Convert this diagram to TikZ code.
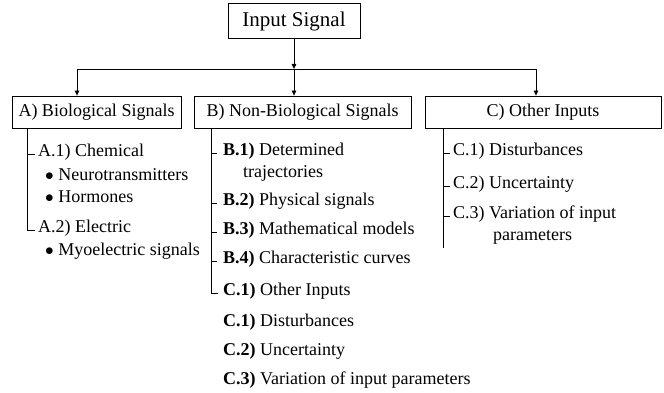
\documentclass[tikz,border=0pt]{standalone}
\usepackage{fontspec}
\setmainfont{Liberation Serif}
\usetikzlibrary{arrows.meta}
\begin{document}
\begin{tikzpicture}[x=1pt,y=-1pt,
  box/.style={draw,line width=0.8pt,inner sep=0pt,font=\fontsize{18}{20}\selectfont},
  item/.style={anchor=mid west,inner sep=0pt,font=\fontsize{18}{20}\selectfont},
  lbl/.style={font=\bfseries},
  arr/.style={-{Triangle[length=5pt,width=4.5pt]},line width=0.8pt},
  tree/.style={line width=0.8pt}]
\useasboundingbox (0,0) rectangle (664,393);
% boxes
\node[box,minimum width=132pt,minimum height=35pt,font=\fontsize{21}{24}\selectfont] (in) at (294,21) {Input Signal};
\node[box,minimum width=169pt,minimum height=32pt] (A) at (96.5,112) {A) Biological Signals};
\node[box,minimum width=217pt,minimum height=32pt] (B) at (302.5,112) {B) Non-Biological Signals};
\node[box,minimum width=236pt,minimum height=32pt] (C) at (543,112) {C) Other Inputs};
% arrows
\coordinate (j) at (294,69);
\coordinate (jA) at (77,69);
\coordinate (jC) at (536,69);
\draw[arr] (in.south) -- (j);
\draw[tree] (jA) -- (jC);
\draw[arr] (jA) -- (jA |- A.north);
\draw[arr] (j) -- (j |- B.north);
\draw[arr] (jC) -- (jC |- C.north);
% A column
\node[item] (a1) at (38,154) {A.1) Chemical};
\node[item] (a1a) at (45,178) {$\bullet$ Neurotransmitters};
\node[item] (a1b) at (45,200) {$\bullet$ Hormones};
\node[item] (a2) at (38,230) {A.2) Electric};
\node[item] (a2a) at (45,253) {$\bullet$ Myoelectric signals};
\coordinate (vA) at (27,0);
\draw[tree] (vA |- A.south) |- ([xshift=-3pt]a2.mid west);
\draw[tree] (vA |- a1.mid west) -- ([xshift=-3pt]a1.mid west);
% B column
\node[item] (b1) at (223,153) {\textbf{B.1)} Determined};
\node[item] (b1x) at (243,175) {trajectories};
\node[item] (b2) at (223,203) {\textbf{B.2)} Physical signals};
\node[item] (b3) at (223,232) {\textbf{B.3)} Mathematical models};
\node[item] (b4) at (223,261) {\textbf{B.4)} Characteristic curves};
\node[item] (b5) at (223,293) {\textbf{C.1)} Other Inputs};
\node[item] (b6) at (223,324) {\textbf{C.1)} Disturbances};
\node[item] (b7) at (223,353) {\textbf{C.2)} Uncertainty};
\node[item] (b8) at (223,382) {\textbf{C.3)} Variation of input parameters};
\coordinate (vB) at (211,0);
\draw[tree] (vB |- B.south) |- ([xshift=-5pt]b5.mid west);
\foreach \n in {b1,b2,b3,b4}
  \draw[tree] (vB |- \n.mid west) -- ([xshift=-6pt]\n.mid west);
% C column
\node[item] (c1) at (453,153) {C.1) Disturbances};
\node[item] (c2) at (453,186) {C.2) Uncertainty};
\node[item] (c3) at (453,216) {C.3) Variation of input};
\node[item] (c3x) at (493,238) {parameters};
\coordinate (vC) at (443,0);
\draw[tree] (vC |- C.south) -- (vC |- 0,248);
\foreach \n in {c1,c2,c3}
  \draw[tree] (vC |- \n.mid west) -- ([xshift=-3pt]\n.mid west);
\end{tikzpicture}
\end{document}
